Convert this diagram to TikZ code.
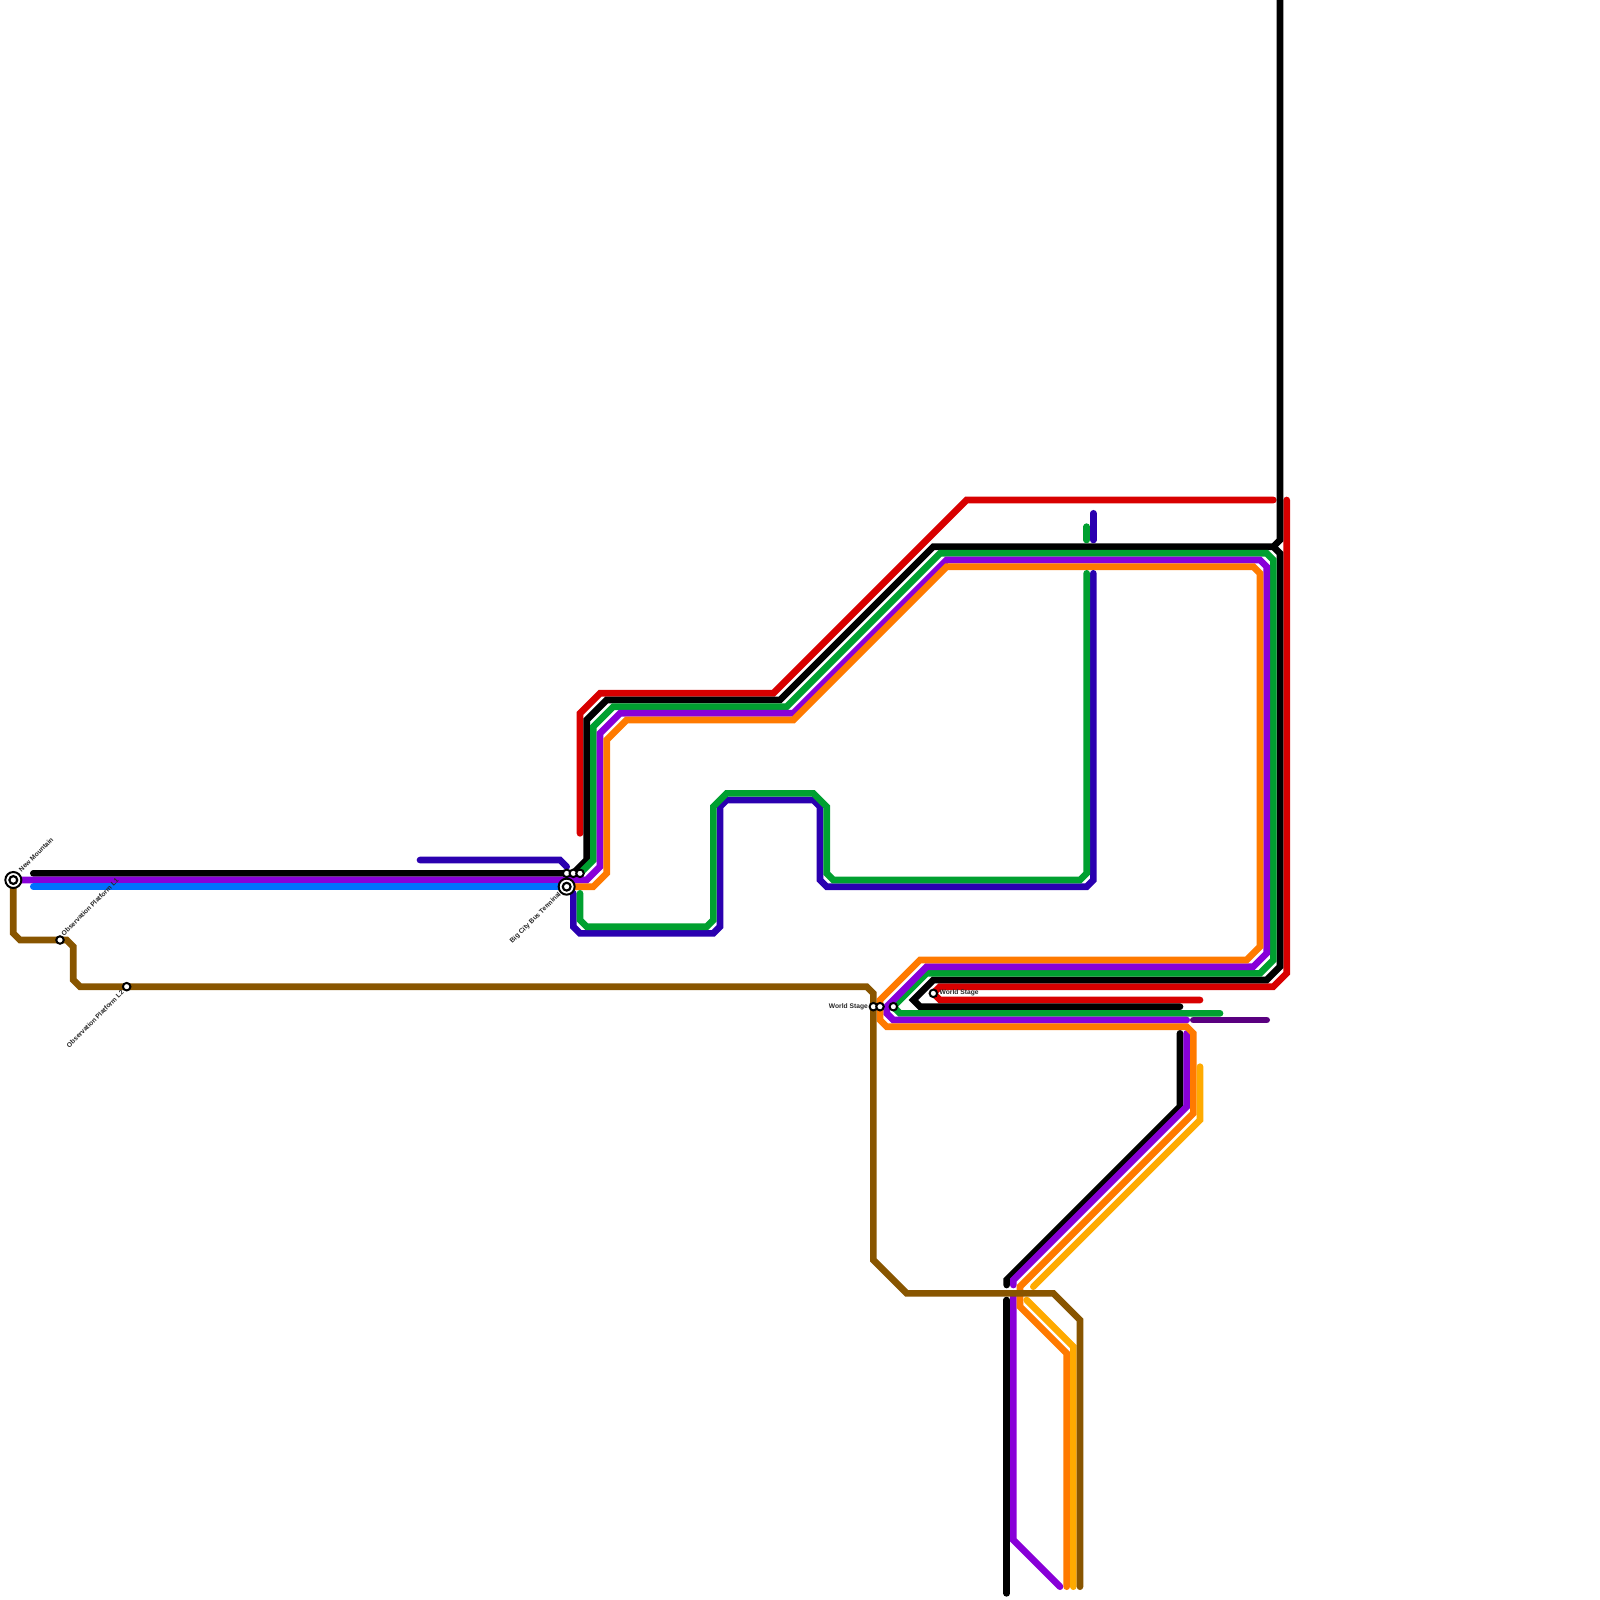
\documentclass[tikz,border=0pt]{standalone}
\usepackage{fontspec}
\setmainfont{Liberation Sans}
\definecolor{lred}{HTML}{D80000}
\definecolor{lgreen}{HTML}{00A030}
\definecolor{lpurple}{HTML}{8800D8}
\definecolor{lorange}{HTML}{FF7A00}
\definecolor{lblue}{HTML}{0070FF}
\definecolor{lindigo}{HTML}{2A00B0}
\definecolor{lbrown}{HTML}{885500}
\definecolor{lamber}{HTML}{FFAA00}
\definecolor{ldark}{HTML}{5A0080}
\tikzset{
  route/.style={line width=0.0667cm,line cap=round,line join=miter,miter limit=10},
  stop/.style={circle,draw=black,fill=white,line width=0.02cm,minimum size=0.075cm,inner sep=0pt},
  hubout/.style={circle,draw=black,fill=white,line width=0.02cm,minimum size=0.16cm,inner sep=0pt},
  hubin/.style={circle,draw=black,fill=white,line width=0.022cm,minimum size=0.078cm,inner sep=0pt},
  lab/.style={inner sep=0pt,font=\bfseries\fontsize{1.9pt}{2.3pt}\selectfont,text=black!85}
}
\begin{document}
\begin{tikzpicture}[x=0.01cm,y=-0.01cm]
\useasboundingbox (0,0) rectangle (1600,1600);
% station positions
\coordinate (nm) at (13.33,880);
\coordinate (ol1) at (60,940);
\coordinate (ol2) at (126.67,986.67);
\coordinate (bc) at (566.67,886.67);
\coordinate (c1) at (566.67,873.33);
\coordinate (c2) at (573.33,873.33);
\coordinate (c3) at (580,873.33);
\coordinate (w1) at (873.33,1006.67);
\coordinate (w2) at (880,1006.67);
\coordinate (w3) at (893.33,1006.67);
\coordinate (w4) at (933.33,993.33);
% routes
\draw[route,lred] (580,833.33) -- (580,713.33) -- (600,693.33) -- (773.33,693.33) -- (966.67,500) -- (1273.33,500);
\draw[route,lred] (1286.67,500) -- (1286.67,973.33) -- (1273.33,986.67) -- (940,986.67) -- (w4) -- (940,1000) -- (1200,1000);
\draw[route,black] (33.33,873.33) -- (c2) -- (586.67,860) -- (586.67,720) -- (606.67,700) -- (780,700) -- (933.33,546.67) -- (1273.33,546.67) -- (1280,540) -- (1280,0);
\draw[route,black] (1273.33,546.67) -- (1280,553.33) -- (1280,966.67) -- (1266.67,980) -- (933.33,980) -- (913.33,1000) -- (920,1006.67) -- (1180,1006.67);
\draw[route,black] (1180,1033.33) -- (1180,1106.67) -- (1006.67,1280) -- (1006.67,1285);
\draw[route,black] (1006.67,1300) -- (1006.67,1593.33);
\draw[route,lgreen] (c3) -- (593.33,860) -- (593.33,726.67) -- (613.33,706.67) -- (786.67,706.67) -- (940,553.33) -- (1266.67,553.33) -- (1273.33,560) -- (1273.33,960) -- (1260,973.33) -- (926.67,973.33) -- (w3) -- (900,1013.33) -- (1220,1013.33);
\draw[route,lpurple] (nm) -- (586.67,880) -- (600,866.67) -- (600,733.33) -- (620,713.33) -- (793.33,713.33) -- (946.67,560) -- (1260,560) -- (1266.67,566.67) -- (1266.67,953.33) -- (1253.33,966.67) -- (926.67,966.67) -- (886.67,1006.67) -- (886.67,1013.33) -- (893.33,1020) -- (1186.67,1020);
\draw[route,lpurple] (1186.67,1033.33) -- (1186.67,1106.67) -- (1013.33,1280) -- (1013.33,1285);
\draw[route,lpurple] (1013.33,1296) -- (1013.33,1540) -- (1060,1586.67);
\draw[route,lorange] (bc) -- (593.33,886.67) -- (606.67,873.33) -- (606.67,740) -- (626.67,720) -- (793.33,720) -- (946.67,566.67) -- (1253.33,566.67) -- (1260,573.33) -- (1260,946.67) -- (1246.67,960) -- (920,960) -- (880,1000) -- (880,1020) -- (886.67,1026.67) -- (1186.67,1026.67) -- (1193.33,1033.33) -- (1193.33,1113.33) -- (1020,1286.67) -- (1020,1306.67) -- (1066.67,1353.33) -- (1066.67,1586.67);
\draw[route,lamber] (1200,1066.67) -- (1200,1120) -- (1033.33,1286.67);
\draw[route,lamber] (1026.67,1300) -- (1073.33,1346.67) -- (1073.33,1586.67);
\draw[route,lblue] (33.33,886.67) -- (bc);
\draw[route,lindigo] (420,860) -- (560,860) -- (566.67,866.67);
\draw[route,lindigo] (573.33,893.33) -- (573.33,926.67) -- (580,933.33) -- (713.33,933.33) -- (720,926.67) -- (720,806.67) -- (726.67,800) -- (813.33,800) -- (820,806.67) -- (820,880) -- (826.67,886.67) -- (1086.67,886.67) -- (1093.33,880) -- (1093.33,573.33);
\draw[route,lindigo] (1093.33,513.33) -- (1093.33,540);
\draw[route,lgreen] (580,893.33) -- (580,920) -- (586.67,926.67) -- (706.67,926.67) -- (713.33,920) -- (713.33,806.67) -- (726.67,793.33) -- (813.33,793.33) -- (826.67,806.67) -- (826.67,873.33) -- (833.33,880) -- (1080,880) -- (1086.67,873.33) -- (1086.67,573.33);
\draw[route,lgreen] (1086.67,526.67) -- (1086.67,540);
\draw[route,ldark] (1193.33,1020) -- (1266.67,1020);
\draw[route,lbrown] (nm) -- (13.33,933.33) -- (20,940) -- (ol1) -- (66.67,940) -- (73.33,946.67) -- (73.33,980) -- (80,986.67) -- (ol2) -- (866.67,986.67) -- (873.33,993.33) -- (873.33,1260) -- (906.67,1293.33) -- (1053.33,1293.33) -- (1080,1320) -- (1080,1586.67);
% stations
\node[hubout] (nmO) at (nm) {};
\node[hubin] (nmI) at (nm) {};
\node[hubout] (bcO) at (bc) {};
\node[hubin] (bcI) at (bc) {};
\node[stop] (st1) at (ol1) {};
\node[stop] (st2) at (ol2) {};
\node[stop] (st3) at (c1) {};
\node[stop] (st4) at (c2) {};
\node[stop] (st5) at (c3) {};
\node[stop] (st6) at (w1) {};
\node[stop] (st7) at (w2) {};
\node[stop] (st8) at (w3) {};
\node[stop] (st9) at (w4) {};
% labels
\node[lab,anchor=west,rotate=45] (t1) at (19.5,871) {New Mountain};
\node[lab,anchor=west,rotate=45] (t2) at (62,935) {Observation Platform L1};
\node[lab,anchor=east,rotate=45] (t3) at (123,991) {Observation Platform L2};
\node[lab,anchor=east,rotate=45] (t4) at (560.5,893) {Big City Bus Terminal};
\node[lab,anchor=east] (t5) at (868.5,1006.67) {World Stage};
\node[lab,anchor=west] (t6) at (939,993) {World Stage};
\end{tikzpicture}
\end{document}
